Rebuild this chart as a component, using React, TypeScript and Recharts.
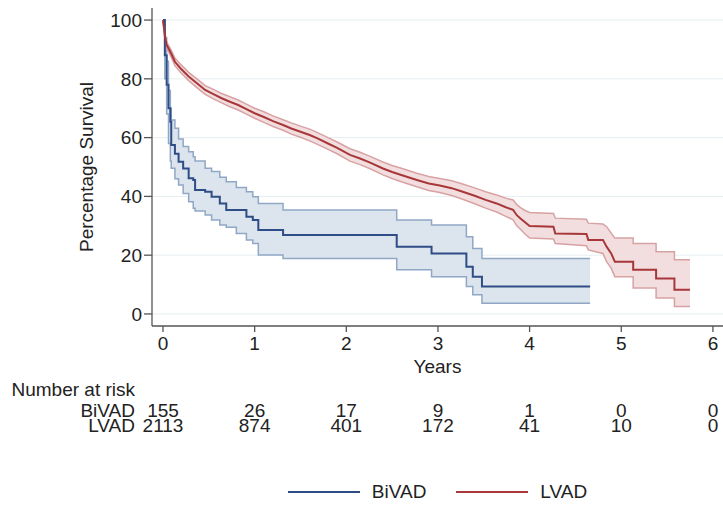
import React from 'react';
import { Area, CartesianGrid, ComposedChart, Legend, Line, XAxis, YAxis } from 'recharts';

const years = [0, 1, 2, 3, 4, 5, 6];
const survivalTicks = [0, 20, 40, 60, 80, 100];
const seriesNames = ['BiVAD', 'LVAD'];

// BiVAD: Kaplan-Meier steps (drawn as stepAfter)
const bivadTime = [0, 0.02, 0.04, 0.06, 0.08, 0.09, 0.13, 0.17, 0.22, 0.28, 0.33, 0.35, 0.46, 0.53, 0.62, 0.69, 0.8, 0.91, 0.98, 1.04, 1.31, 2.55, 2.93, 3.31, 3.38, 3.48, 4.66];
const bivadSurv = [100, 88, 78, 70, 65.4, 57.5, 54.5, 51.8, 49.5, 46.2, 45.6, 42.2, 41.6, 39.9, 37.6, 35.4, 35.4, 33.1, 32, 28.6, 26.9, 22.9, 20.6, 16.1, 12.7, 9.3, 9.3];
const bivadLower = [100, 80, 68, 58, 52, 49.6, 46, 43.9, 41, 38.2, 36, 35, 33.7, 32, 30.3, 29.5, 27.4, 25.2, 24, 20.1, 18.9, 15, 12.7, 9.3, 6.5, 3.6, 3.6];
const bivadUpper = [100, 94, 86, 76, 70, 66, 63.2, 59.5, 57, 55.2, 53.5, 52, 49.6, 48.5, 46.5, 45, 43, 41.6, 39.9, 37.6, 35.4, 32, 30.3, 26.3, 22.3, 18.9, 18.9];

// LVAD: fine steps read as a polyline, the late big steps given as corner pairs
const lvadTime = [0, 0.02, 0.04, 0.08, 0.13, 0.19, 0.28, 0.37, 0.46, 0.55, 0.64, 0.73, 0.82, 0.91, 1.0, 1.1, 1.2, 1.31, 1.4, 1.5, 1.6, 1.68, 1.8, 1.9, 2.04, 2.15, 2.26, 2.4, 2.5, 2.6, 2.77, 2.9, 3.02, 3.15, 3.27, 3.4, 3.52, 3.64, 3.74, 3.82, 3.86, 3.9, 3.95, 4.0, 4.26, 4.28, 4.62, 4.64, 4.8, 4.84, 4.89, 4.93, 5.13, 5.13, 5.38, 5.38, 5.58, 5.58, 5.75];
const lvadSurv = [100, 94.9, 91.5, 89.2, 85.8, 83.6, 80.8, 78.5, 76.2, 74.8, 73.4, 72.2, 71.1, 69.7, 68.3, 67, 65.6, 64.3, 63.1, 62, 60.9, 59.8, 58, 56.5, 54.1, 52.9, 51.5, 49.5, 48.3, 47.3, 45.6, 44.4, 43.7, 42.8, 41.6, 40.2, 38.8, 37.6, 36.3, 35.4, 33.6, 32.5, 31.2, 29.9, 29.7, 27.4, 27.2, 25.2, 25.2, 22.9, 20.6, 17.8, 17.8, 15, 15, 12.1, 12.1, 8.2, 8.2];
const lvadLower = [100, 94, 90.5, 88, 84.5, 82.2, 79.4, 77, 74.7, 73.2, 71.8, 70.5, 69.4, 68, 66.6, 65.2, 63.8, 62.5, 61.2, 60.1, 58.9, 57.8, 56, 54.5, 52, 50.8, 49.4, 47.3, 46.1, 45, 43.3, 42, 41.3, 40.3, 39, 37.5, 36, 34.7, 33.2, 32, 30, 28.8, 27.2, 25.8, 25.5, 24, 23.2, 21.8, 20.6, 17.8, 15.6, 12.7, 12.7, 8.8, 8.8, 5.4, 5.4, 2.5, 2.5];
const lvadUpper = [100, 95.8, 92.5, 90.4, 87.1, 85, 82.2, 80, 77.7, 76.4, 75, 73.9, 72.8, 71.4, 70, 68.8, 67.4, 66.1, 65, 63.9, 62.9, 61.8, 60, 58.5, 56.2, 55, 53.6, 51.7, 50.5, 49.6, 47.9, 46.8, 46.1, 45.3, 44.2, 42.9, 41.6, 40.5, 39.4, 38.8, 37.2, 36.2, 35.2, 34.5, 34.2, 32.6, 32.2, 30.9, 30.6, 29.7, 27.5, 25.8, 25.8, 24, 24, 21.2, 21.2, 18.4, 18.4];

const bivadAtRisk = [155, 26, 17, 9, 1, 0, 0];
const lvadAtRisk = [2113, 874, 401, 172, 41, 10, 0];

const FONT = '"Liberation Sans", Arial, Helvetica, sans-serif';
const INK = '#222';
const AXIS = '#555';
const BIVAD_LINE = '#2e4d86';
const BIVAD_FILL = '#dce4ed';
const BIVAD_EDGE = '#90a8c6';
const LVAD_LINE = '#a8373a';
const LVAD_FILL = '#f2dedf';
const LVAD_EDGE = '#d8a2a4';

const X_DOMAIN = [-0.12, 6.11];

function buildSeries(time: number[], surv: number[], lower: number[], upper: number[]) {
  return time.map((t, i) => ({ t, s: surv[i], band: [lower[i], upper[i]] }));
}

const bivadData = buildSeries(bivadTime, bivadSurv, bivadLower, bivadUpper);
const lvadData = buildSeries(lvadTime, lvadSurv, lvadLower, lvadUpper);
const riskRows = years.map((t, i) => ({ t, bivad: bivadAtRisk[i], lvad: lvadAtRisk[i] }));

const textStyle = { fontFamily: FONT, fontSize: 19, fill: INK };

function riskTick(label: string, counts: number[], rowDy: number, header?: string) {
  return (props: any) => {
    const { x, y, payload } = props;
    const i = years.indexOf(payload.value);
    return (
      <g>
        {i === 0 && header && (
          <text x={x - 28} y={y + 20} textAnchor="end" style={textStyle}>
            {header}
          </text>
        )}
        {i === 0 && (
          <text x={x - 28} y={y + rowDy} textAnchor="end" style={textStyle}>
            {label}
          </text>
        )}
        <text x={x} y={y + rowDy} textAnchor="middle" style={textStyle}>
          {counts[i]}
        </text>
      </g>
    );
  };
}

function SurvivalLabel(props: any) {
  const vb = props.viewBox;
  return (
    <text
      transform={`translate(${vb.x + 93},${vb.y + vb.height / 2}) rotate(-90)`}
      textAnchor="middle"
      style={textStyle}
    >
      Percentage Survival
    </text>
  );
}

function LegendRow({ payload }: any) {
  const items = (payload || []).filter((p: any) => seriesNames.includes(p.value));
  return (
    <div
      style={{
        height: 66,
        paddingTop: 40,
        boxSizing: 'border-box',
        display: 'flex',
        justifyContent: 'center',
        alignItems: 'flex-start',
      }}
    >
      {items.map((p: any, i: number) => (
        <div key={p.value} style={{ display: 'flex', alignItems: 'center', height: 24, marginLeft: i ? 30 : 0 }}>
          <svg width={72} height={24}>
            <line x1={0} x2={72} y1={12} y2={12} stroke={p.color} strokeWidth={2} />
          </svg>
          <span style={{ marginLeft: 12, fontSize: 19, lineHeight: '24px', color: INK, fontFamily: FONT }}>
            {p.value}
          </span>
        </div>
      ))}
    </div>
  );
}

export default function App() {
  return (
    <div style={{ position: 'absolute', left: 0, top: 0, width: 723, height: 506, background: '#fff' }}>
      <ComposedChart width={723} height={506} margin={{ top: 8, right: 0, left: 0, bottom: 0 }}>
        <CartesianGrid stroke="#e6eef1" vertical={false} horizontalValues={survivalTicks} />
        <XAxis
          dataKey="t"
          type="number"
          domain={X_DOMAIN}
          ticks={years}
          interval={0}
          allowDataOverflow
          height={50}
          tickSize={6}
          tickMargin={5}
          stroke={AXIS}
          strokeWidth={1.3}
          tick={{ fontFamily: FONT, fontSize: 19, fill: INK }}
          label={{ value: 'Years', position: 'insideBottom', offset: 3, fontFamily: FONT, fontSize: 19, fill: INK }}
        />
        <XAxis
          xAxisId="riskB"
          dataKey="t"
          type="number"
          domain={X_DOMAIN}
          ticks={years}
          interval={0}
          allowDataOverflow
          height={44}
          tickSize={0}
          tickMargin={0}
          axisLine={false}
          tickLine={false}
          tick={riskTick('BiVAD', bivadAtRisk, 40.5, 'Number at risk')}
        />
        <XAxis
          xAxisId="riskL"
          dataKey="t"
          type="number"
          domain={X_DOMAIN}
          ticks={years}
          interval={0}
          allowDataOverflow
          height={20}
          tickSize={0}
          tickMargin={0}
          axisLine={false}
          tickLine={false}
          tick={riskTick('LVAD', lvadAtRisk, 11.7)}
        />
        <YAxis
          type="number"
          domain={[-4.1, 104.1]}
          ticks={survivalTicks}
          interval={0}
          allowDataOverflow
          width={152}
          tickSize={8}
          tickMargin={2}
          stroke={AXIS}
          strokeWidth={1.3}
          tick={{ fontFamily: FONT, fontSize: 19, fill: INK }}
          label={SurvivalLabel}
        />
        <Legend verticalAlign="bottom" content={LegendRow} wrapperStyle={{ left: 152, width: 571, bottom: 0 }} />
        <Area
          data={bivadData}
          dataKey="band"
          type="stepAfter"
          fill={BIVAD_FILL}
          fillOpacity={1}
          stroke={BIVAD_EDGE}
          strokeWidth={1.5}
          legendType="none"
          isAnimationActive={false}
        />
        <Area
          data={lvadData}
          dataKey="band"
          type="linear"
          fill={LVAD_FILL}
          fillOpacity={1}
          stroke={LVAD_EDGE}
          strokeWidth={1.5}
          legendType="none"
          isAnimationActive={false}
        />
        <Line
          data={bivadData}
          dataKey="s"
          name="BiVAD"
          type="stepAfter"
          stroke={BIVAD_LINE}
          strokeWidth={2}
          dot={false}
          isAnimationActive={false}
        />
        <Line
          data={lvadData}
          dataKey="s"
          name="LVAD"
          type="linear"
          stroke={LVAD_LINE}
          strokeWidth={2}
          dot={false}
          isAnimationActive={false}
        />
        {/* invisible carriers so the number-at-risk axes get their ticks */}
        <Line
          xAxisId="riskB"
          data={riskRows}
          dataKey="bivad"
          stroke="none"
          dot={false}
          legendType="none"
          isAnimationActive={false}
        />
        <Line
          xAxisId="riskL"
          data={riskRows}
          dataKey="lvad"
          stroke="none"
          dot={false}
          legendType="none"
          isAnimationActive={false}
        />
      </ComposedChart>
    </div>
  );
}
